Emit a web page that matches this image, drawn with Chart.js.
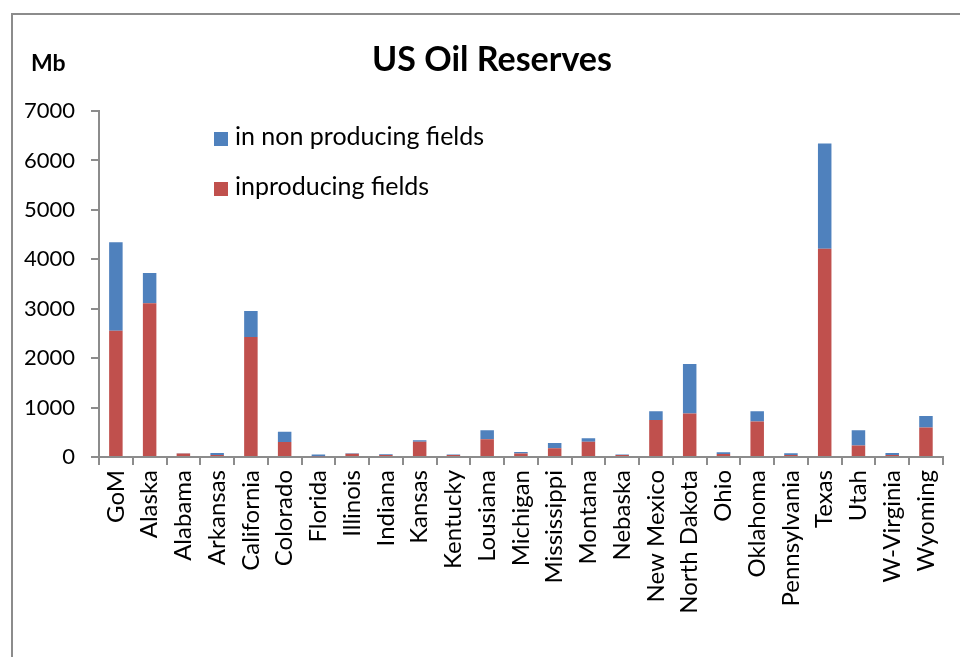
<!DOCTYPE html>
<html>
<head>
<meta charset="utf-8">
<script src="https://cdn.jsdelivr.net/npm/chart.js@4"></script>
<style>
  body { margin: 0; background: #fff; overflow: hidden; }
  #frame { position: absolute; left: 11px; top: 13px; width: 1000px; height: 700px; border: 2px solid #8c8c8c; }
  #wrap { position: absolute; left: 0; top: 0; width: 960px; height: 657px; }
</style>
</head>
<body>
<div id="frame"></div>
<div id="wrap"><canvas id="oil_chart" width="960" height="657"></canvas></div>
<script>
// states / regions
var states = ["GoM", "Alaska", "Alabama", "Arkansas", "California", "Colorado", "Florida", "Illinois",
    "Indiana", "Kansas", "Kentucky", "Lousiana", "Michigan", "Mississippi", "Montana", "Nebaska",
    "New Mexico", "North Dakota", "Ohio", "Oklahoma", "Pennsylvania", "Texas", "Utah", "W-Virginia", "Wyoming"];
// reserves in producing fields (Mb)
var producing = [2555, 3110, 70, 40, 2430, 305, 15, 65, 40, 310, 40, 360, 70, 175, 310, 40,
    750, 880, 60, 720, 40, 4215, 235, 40, 595];
// reserves in non producing fields (Mb)
var nonProducing = [1790, 615, 5, 40, 525, 205, 35, 10, 15, 27, 10, 180, 30, 108, 68, 10,
    175, 1000, 35, 205, 35, 2125, 305, 40, 235];
var yTicks = [0, 1000, 2000, 3000, 4000, 5000, 6000, 7000];

var FONT = "Lato, 'Open Sans', sans-serif";

// title, unit and legend drawn on the canvas
var decor = {
    id: 'decor',
    afterDraw: function(chart) {
        var c = chart.ctx;
        c.save();
        c.fillStyle = '#000';
        c.textBaseline = 'middle';
        c.font = "bold 34px " + FONT;
        c.textAlign = 'center';
        c.fillText("US Oil Reserves", 492, 60);
        c.font = "bold 23px " + FONT;
        c.textAlign = 'left';
        c.fillText("Mb", 31, 64);

        // legend: last dataset on top
        var ds = chart.data.datasets;
        c.font = "25px " + FONT;
        for (var i = ds.length - 1, row = 0; i >= 0; i--, row++) {
            var y = 137 + row * 50;
            c.fillStyle = ds[i].backgroundColor;
            c.fillRect(214, y - 5, 14, 14);
            c.fillStyle = '#000';
            c.fillText(ds[i].label, 235, y);
        }
        c.restore();
    }
};

var ctx = document.getElementById('oil_chart').getContext('2d');
var oilChart = new Chart(ctx, {
    type: 'bar',
    data: {
        labels: states,
        datasets: [
            {
                label: "inproducing fields",
                data: producing,
                backgroundColor: '#C0504D'
            },
            {
                label: "in non producing fields",
                data: nonProducing,
                backgroundColor: '#4F81BD'
            }
        ]
    },
    options: {
        responsive: false,
        animation: false,
        layout: { padding: { left: 0, right: 12, top: 111, bottom: 0 } },
        datasets: { bar: { barPercentage: 0.4, categoryPercentage: 1.0 } },
        scales: {
            x: {
                stacked: true,
                grid: { offset: true, drawOnChartArea: false, tickLength: 8, color: '#8c8c8c', lineWidth: 2 },
                border: { color: '#8c8c8c', width: 2 },
                ticks: { minRotation: 90, maxRotation: 90, autoSkip: false, padding: 5, color: '#000', font: { family: FONT, size: 24 } },
                afterFit: function(scale) { scale.height = 200; }
            },
            y: {
                stacked: true,
                min: 0,
                max: 7000,
                afterBuildTicks: function(scale) {
                    scale.ticks = yTicks.map(function(v) { return { value: v }; });
                },
                grid: { drawOnChartArea: false, tickLength: 8, color: '#8c8c8c', lineWidth: 2 },
                border: { color: '#8c8c8c', width: 2 },
                ticks: {
                    padding: 16, color: '#000', font: { family: FONT, size: 22 },
                    callback: function(v) { return String(v); }
                },
                afterFit: function(scale) { scale.width = 99; }
            }
        },
        plugins: {
            legend: { display: false },
            title: { display: false },
            tooltip: { enabled: false }
        }
    },
    plugins: [decor]
});
</script>
</body>
</html>
